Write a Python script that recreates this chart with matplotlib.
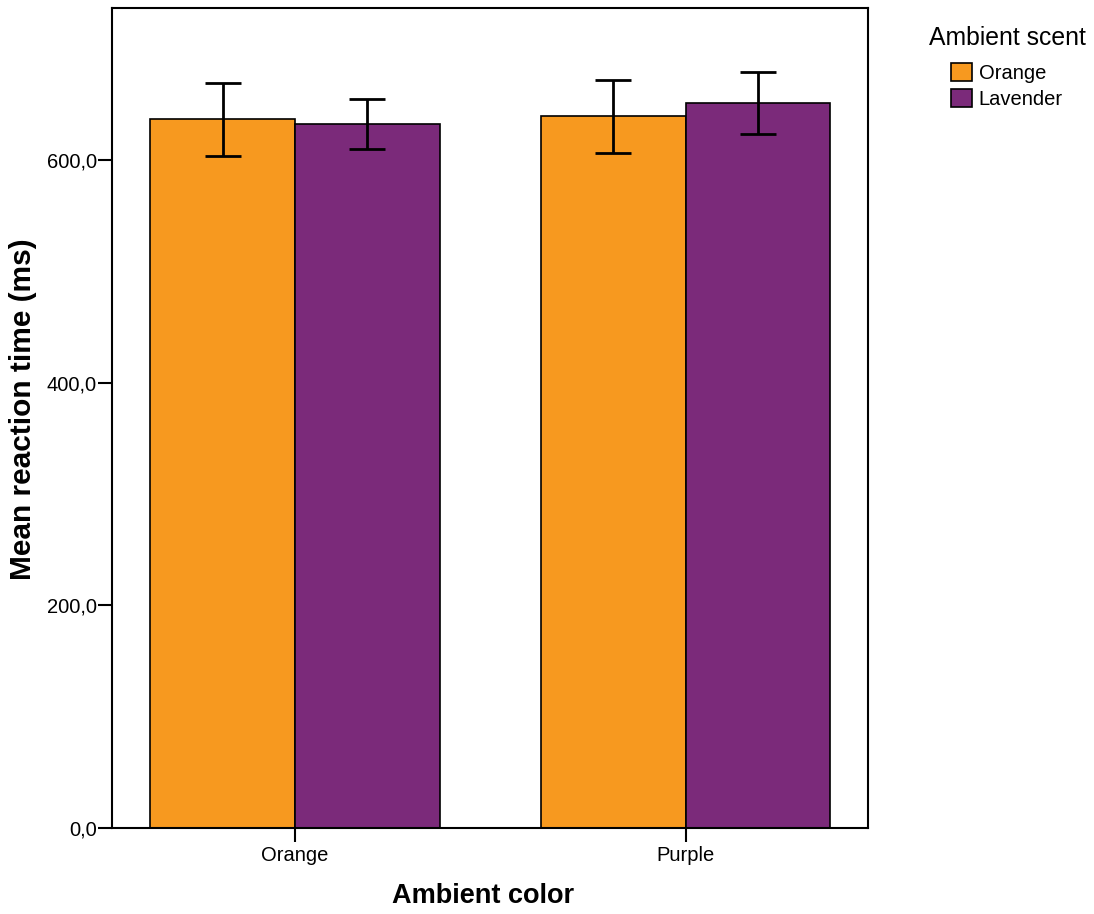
import numpy as np
import matplotlib.pyplot as plt
from matplotlib.ticker import FuncFormatter

plt.rcParams['font.family'] = ['Liberation Sans', 'DejaVu Sans']

# data
colors_amb = ['Orange', 'Purple']
scents = ['Orange', 'Lavender']
means = {'Orange': [636.9, 639.6], 'Lavender': [632.7, 651.5]}
upper = {'Orange': [669.2, 672.5], 'Lavender': [655.1, 679.4]}
lower = {'Orange': [604.2, 606.3], 'Lavender': [610.2, 623.7]}
bar_colors = {'Orange': '#F7991F', 'Lavender': '#7B2A7A'}

fig = plt.figure(figsize=(10.94, 9.14), dpi=100)
ax = fig.add_axes([0.1027, 0.0944, 0.691, 0.8968])

x = np.arange(len(colors_amb))
w = 0.37
offsets = [-w / 2, w / 2]
for s, off in zip(scents, offsets):
    m = np.array(means[s])
    err = [m - np.array(lower[s]), np.array(upper[s]) - m]
    ax.bar(x + off, m, width=w, color=bar_colors[s], edgecolor='black',
           linewidth=1.2, label=s, zorder=2)
    ax.errorbar(x + off, m, yerr=err, fmt='none', ecolor='black',
                elinewidth=2, capsize=13, capthick=2, zorder=3)

ax.set_xlim(-0.4676, 1.4676)
ax.set_ylim(0, 737)
ax.set_xticks(x)
ax.set_xticklabels(colors_amb)
ax.set_yticks([0, 200, 400, 600])
ax.yaxis.set_major_formatter(FuncFormatter(lambda v, p: f'{v:.1f}'.replace('.', ',')))
ax.tick_params(axis='both', labelsize=14.5, length=10, width=1.5, pad=1)
ax.tick_params(axis='x', pad=3)
for sp in ax.spines.values():
    sp.set_linewidth(1.5)

ax.set_ylabel('Mean reaction time (ms)', fontsize=21.5, fontweight='bold')
ax.yaxis.set_label_coords(-0.1, 0.51)
ax.set_xlabel('Ambient color', fontsize=19.5, fontweight='bold', va='top')
ax.xaxis.set_label_coords(0.49, -0.067)

leg = ax.legend(title='Ambient scent', loc='upper left',
                bbox_to_anchor=(0.8378, 0.985), bbox_transform=fig.transFigure,
                frameon=False, fontsize=14.5, title_fontsize=17.8,
                handlelength=1.0, handleheight=1.0, handletextpad=0.35,
                labelspacing=0.3, borderpad=0.6, borderaxespad=0)
leg._legend_box.sep = 9.5  # wider gap between title and entries
for h in leg.legend_handles:
    h.set_linewidth(1.2)

fig.savefig('out.png', dpi=100)
plt.close(fig)
